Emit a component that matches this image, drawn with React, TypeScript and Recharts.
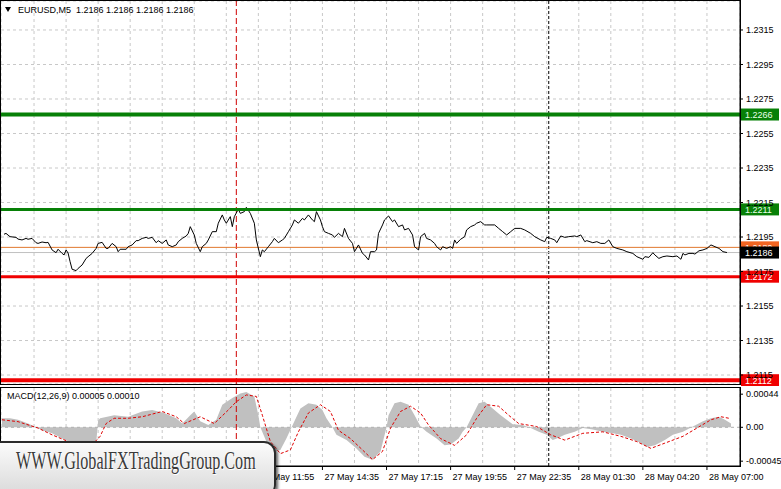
import { ComposedChart, Line, Area, XAxis, YAxis, CartesianGrid, ReferenceLine } from 'recharts';

const FONT = '"Liberation Sans", Arial, sans-serif';

const symbolLabel = 'EURUSD,M5';
const macdLabel = 'MACD(12,26,9)';
const macdReadout = [0.00005, 0.0001];
const watermarkText = 'WWW.GlobalFXTradingGroup.Com';

// price line, bar index (5 min bars) and close
const priceBars = [
    1, 2, 4, 7, 8, 10, 12, 13, 15, 17, 18, 20, 22, 23, 25, 27, 28, 30, 31, 32, 33, 34, 35, 37, 38, 40, 42, 43, 45, 47,
    48, 50, 52, 53, 55, 57, 58, 59, 62, 63, 65, 67, 68, 70, 72, 73, 75, 77, 78, 80, 82, 83, 85, 87, 88, 90, 92, 93, 94,
    96, 97, 99, 100, 102, 103, 105, 107, 108, 110, 111, 112, 114, 115, 116, 118, 119, 121, 122, 124, 126, 127, 129, 130,
    131, 133, 135, 136, 138, 140, 141, 143, 145, 146, 148, 150, 151, 153, 155, 156, 157, 159, 160, 161, 163, 165, 166,
    168, 170, 171, 173, 175, 176, 178, 180, 181, 183, 184, 186, 187, 188, 190, 191, 193, 195, 196, 198, 200, 201, 203,
    205, 206, 208, 209, 211, 212, 214, 216, 217, 219, 220, 222, 224, 225, 226, 227, 229, 231, 232, 234, 236, 237, 239,
    241, 242, 246, 248, 250, 252, 254, 256, 259, 261, 264, 266, 269, 271, 272, 274, 276, 277, 279, 281, 283, 286, 287,
    289, 291, 292, 295, 297, 299, 301, 303, 305, 307, 310, 312, 315, 317, 320, 321, 323, 325, 326, 328, 330, 332, 335,
    337, 339, 340, 341, 343, 345, 346, 348, 350, 352, 354, 356, 358, 360, 362,
];
const closes = [
    1.21966, 1.21971, 1.21952, 1.21948, 1.21938, 1.21933, 1.21942, 1.21937, 1.21942, 1.21917, 1.21913, 1.21921, 1.21917,
    1.21919, 1.21875, 1.21859, 1.21879, 1.21855, 1.21846, 1.21875, 1.21857, 1.21807, 1.21763, 1.21755, 1.21768, 1.21788,
    1.21826, 1.21836, 1.21855, 1.21884, 1.21913, 1.21919, 1.21884, 1.21884, 1.21913, 1.21894, 1.21865, 1.21879, 1.21879,
    1.21894, 1.21904, 1.21929, 1.21929, 1.21942, 1.21948, 1.21942, 1.21948, 1.21917, 1.21929, 1.21913, 1.21933, 1.21904,
    1.21894, 1.21904, 1.21923, 1.21942, 1.21956, 1.21971, 1.2201, 1.21962, 1.21913, 1.21865, 1.21894, 1.21913, 1.21933,
    1.21981, 1.21981, 1.2203, 1.22078, 1.22049, 1.2203, 1.22068, 1.2201, 1.22068, 1.22111, 1.22087, 1.22097, 1.22122,
    1.22087, 1.2203, 1.21933, 1.21836, 1.21875, 1.21865, 1.21894, 1.21923, 1.21942, 1.21917, 1.21933, 1.21942, 1.21981,
    1.2202, 1.22049, 1.2203, 1.22058, 1.22049, 1.22078, 1.22049, 1.22039, 1.22097, 1.22049, 1.2201, 1.21981, 1.21971,
    1.21962, 1.21948, 1.21971, 1.21952, 1.22, 1.21942, 1.21913, 1.21865, 1.21904, 1.21855, 1.21846, 1.21817, 1.21865,
    1.21865, 1.21875, 1.21971, 1.2202, 1.22049, 1.22072, 1.22039, 1.22049, 1.2201, 1.2202, 1.21991, 1.22, 1.21962,
    1.21894, 1.21875, 1.21952, 1.21971, 1.21942, 1.21933, 1.21913, 1.21894, 1.21875, 1.21894, 1.21884, 1.21894, 1.21884,
    1.21933, 1.21913, 1.21937, 1.21952, 1.21991, 1.2201, 1.2202, 1.2203, 1.22039, 1.2202, 1.2202, 1.2202, 1.22, 1.21981,
    1.21962, 1.21981, 1.22, 1.22, 1.21991, 1.21971, 1.21952, 1.21933, 1.21923, 1.21948, 1.21942, 1.21933, 1.21917,
    1.21956, 1.21948, 1.21952, 1.21956, 1.21952, 1.21962, 1.21923, 1.21929, 1.21917, 1.21923, 1.21913, 1.21913, 1.21933,
    1.21894, 1.21884, 1.21875, 1.21865, 1.21855, 1.21836, 1.21821, 1.21836, 1.21832, 1.21859, 1.21846, 1.21826, 1.21836,
    1.2184, 1.21836, 1.2184, 1.21821, 1.21855, 1.21846, 1.21855, 1.21855, 1.21851, 1.2187, 1.21875, 1.21884, 1.21904,
    1.21894, 1.21884, 1.21865, 1.2186,
];

const priceTicks = [1.2115, 1.2135, 1.2155, 1.2175, 1.2195, 1.2215, 1.2235, 1.2255, 1.2275, 1.2295, 1.2315];
const priceDomain = [1.21098, 1.23318];
const resistanceLevels = [1.2266, 1.2211];
const supportLevels = [1.2172, 1.2112];
const askPrice = 1.2189;
const bidPrice = 1.2186;

const barDomain = [-0.5, 368.5];
const gridBars = [16, 32, 48, 64, 80, 96, 112, 128, 144, 160, 176, 192, 208, 224, 240, 256, 272, 288, 304, 320, 336, 352];
const timeBars = [128, 160, 192, 224, 256, 288, 320, 352];
const timeLabels = [
    '27 May 11:55',
    '27 May 14:35',
    '27 May 17:15',
    '27 May 19:55',
    '27 May 22:35',
    '28 May 01:30',
    '28 May 04:20',
    '28 May 07:00',
];
const redMarkBar = 117;
const blackMarkBar = 273;

// MACD main (histogram) and signal
const histBars = [
    0, 4, 8, 13, 17, 20, 25, 30, 35, 40, 44, 47, 48, 49, 56, 63, 70, 75, 81, 87, 90, 94, 96, 99, 103, 107, 110, 115, 119,
    122, 126, 128, 129, 132, 135, 139, 142, 146, 149, 153, 157, 160, 162, 165, 167, 172, 177, 181, 185, 189, 192, 193,
    196, 199, 203, 206, 209, 212, 217, 221, 224, 228, 230, 232, 235, 238, 241, 245, 249, 253, 255, 260, 264, 268, 272,
    275, 277, 281, 286, 290, 295, 300, 305, 309, 314, 319, 322, 326, 331, 335, 340, 345, 350, 354, 358, 361, 364,
];
const histValues = [
    0.00012, 0.00012, 0.0001, 0.00005, 0, -0.00004, -0.00008, -0.00015, -0.00021, -0.00024, -0.00025, -0.00022, 0.00009,
    0.00012, 0.00016, 0.00014, 0.00021, 0.00023, 0.00019, 0.00012, 0.00005, 0.00016, 0.00021, 0.00008, 0.00003, 0.0001,
    0.0003, 0.00039, 0.00045, 0.00047, 0.00041, 0.00016, 0, -0.00019, -0.00032, -0.0003, -0.00015, 0.00008, 0.00025,
    0.00032, 0.0003, 0.00023, 0.00012, 0, -0.0001, -0.00017, -0.00028, -0.00039, -0.00043, -0.00032, 0, 0.00016, 0.00032,
    0.00034, 0.0003, 0.00016, 0.00001, -0.00006, -0.00015, -0.00024, -0.00023, -0.00015, -0.00006, 0, 0.00016, 0.00032,
    0.00034, 0.00025, 0.00016, 0.00008, 0.00004, 0.00003, -0.00001, -0.00006, -0.0001, -0.00017, -0.00015, -0.0001,
    -0.00006, -0.00001, -0.00003, -0.00006, -0.00008, -0.0001, -0.00015, -0.00021, -0.00026, -0.00024, -0.00017, -0.0001,
    -0.00006, 0.00001, 0.00008, 0.00012, 0.00014, 0.0001, 0.00005,
];
const signalBars = [
    0, 8, 18, 25, 35, 44, 49, 52, 56, 63, 70, 80, 87, 91, 99, 106, 113, 117, 122, 127, 130, 134, 139, 144, 148, 153, 159,
    164, 168, 174, 180, 185, 190, 194, 199, 204, 209, 213, 219, 226, 232, 237, 242, 248, 253, 258, 267, 274, 281, 290,
    300, 309, 317, 324, 331, 340, 347, 354, 359, 363,
];
const signalValues = [
    0.0001, 0.000075, -0.00001, -0.0001, -0.00021, -0.00026, -0.00012, 0.00005, 0.00012, 0.00012, 0.00014, 0.00021,
    0.00014, 0.00005, 0.00014, 0.00005, 0.00023, 0.00034, 0.00043, 0.00041, 0.00016, -0.00019, -0.00035, -0.0003,
    -0.00006, 0.00019, 0.0003, 0.00021, -0.00004, -0.00015, -0.0003, -0.00043, -0.00032, -0.00001, 0.00021, 0.00028,
    0.00019, 0.00003, -0.00015, -0.00024, -0.0001, 0.00012, 0.0003, 0.00028, 0.00016, 0.00005, 0.00001, -0.0001,
    -0.00017, -0.00008, -0.00006, -0.00012, -0.00019, -0.00028, -0.00021, -0.00012, -0.00001, 0.0001, 0.00014, 0.00012,
];
const macdTicks = [-0.00045, 0, 0.00044];
const macdDomain = [-0.000514, 0.000522];

const priceData = priceBars.map((bar, i) => ({ bar, close: closes[i] }));
const histData = histBars.map((bar, i) => ({ bar, hist: histValues[i] }));
const signalData = signalBars.map((bar, i) => ({ bar, signal: signalValues[i] }));
const lastClose = closes[closes.length - 1].toFixed(4);

function PriceTag(props: any) {
    const { viewBox, price, fill, color } = props;
    if (!viewBox) return null;
    const x = viewBox.x + viewBox.width + 1;
    const y = viewBox.y;
    return (
        <g>
            <rect x={x} y={y - 6} width={38} height={12} fill={fill} />
            <text x={x + 4} y={y + 3.5} fill={color} fontSize={9} fontFamily={FONT}>
                {price.toFixed(4)}
            </text>
        </g>
    );
}

function TimeTick({ x, y, payload }: any) {
    const i = timeBars.indexOf(payload.value);
    return (
        <text x={x + 2} y={y + 8} fontSize={9} fontFamily={FONT} fill="#000">
            {timeLabels[i]}
        </text>
    );
}

const tickStyle = { fontSize: 9, fill: '#000', fontFamily: FONT };

export default function App() {
    return (
        <div style={{ position: 'fixed', left: 0, top: 0, width: 781, height: 489, background: '#fff', overflow: 'hidden', fontFamily: FONT }}>
            <div style={{ position: 'absolute', left: 0, top: 0 }}>
                <ComposedChart width={781} height={386} margin={{ top: 1, right: 0, bottom: 2, left: 1 }}>
                    <XAxis type="number" dataKey="bar" domain={barDomain} ticks={gridBars} hide allowDataOverflow />
                    <YAxis
                        orientation="right"
                        type="number"
                        width={41}
                        domain={priceDomain}
                        ticks={priceTicks}
                        allowDataOverflow
                        tickSize={3}
                        tickMargin={3}
                        axisLine={{ stroke: '#000' }}
                        tickLine={{ stroke: '#000' }}
                        tick={tickStyle}
                        tickFormatter={(v: number) => v.toFixed(4)}
                    />
                    <CartesianGrid strokeDasharray="3 3" stroke="#c8c8c8" />
                    <ReferenceLine x={redMarkBar} stroke="#d00000" strokeDasharray="6 3" />
                    <ReferenceLine x={blackMarkBar} stroke="#000" strokeDasharray="3 2" />
                    <ReferenceLine
                        y={askPrice}
                        stroke="#e0782e"
                        label={(p: any) => <PriceTag {...p} price={askPrice} fill="#f26522" color="#fff" />}
                    />
                    <ReferenceLine
                        y={bidPrice}
                        stroke="#c0c0c0"
                        label={(p: any) => <PriceTag {...p} price={bidPrice} fill="#000" color="#fff" />}
                    />
                    <Line
                        data={priceData}
                        dataKey="close"
                        type="linear"
                        stroke="#000"
                        strokeWidth={1}
                        dot={false}
                        isAnimationActive={false}
                    />
                    {resistanceLevels.map((lvl, i) => (
                        <ReferenceLine
                            key={'r' + lvl}
                            y={lvl}
                            stroke="#078007"
                            strokeWidth={i === 0 ? 4 : 3}
                            label={(p: any) => <PriceTag {...p} price={lvl} fill="#078007" color="#e8ffe8" />}
                        />
                    ))}
                    {supportLevels.map((lvl, i) => (
                        <ReferenceLine
                            key={'s' + lvl}
                            y={lvl}
                            stroke="#f00000"
                            strokeWidth={i === 1 ? 4 : 3}
                            label={(p: any) => <PriceTag {...p} price={lvl} fill="#f00000" color="#fff" />}
                        />
                    ))}
                </ComposedChart>
            </div>

            <div style={{ position: 'absolute', left: 0, top: 386 }}>
                <ComposedChart width={781} height={103} margin={{ top: 2, right: 0, bottom: 0, left: 1 }}>
                    <XAxis xAxisId="grid" type="number" dataKey="bar" domain={barDomain} ticks={gridBars} hide allowDataOverflow />
                    <XAxis
                        type="number"
                        dataKey="bar"
                        domain={barDomain}
                        ticks={timeBars}
                        interval={0}
                        height={23}
                        allowDataOverflow
                        tickSize={4}
                        axisLine={{ stroke: '#000' }}
                        tickLine={{ stroke: '#000' }}
                        tick={<TimeTick />}
                    />
                    <YAxis
                        orientation="right"
                        type="number"
                        width={41}
                        domain={macdDomain}
                        ticks={macdTicks}
                        allowDataOverflow
                        tickSize={3}
                        tickMargin={3}
                        axisLine={{ stroke: '#000' }}
                        tickLine={{ stroke: '#000' }}
                        tick={tickStyle}
                        tickFormatter={(v: number) => (v === 0 ? '0.00' : v.toFixed(5))}
                    />
                    <CartesianGrid xAxisId="grid" horizontal={false} strokeDasharray="3 3" stroke="#c8c8c8" />
                    <Area
                        data={histData}
                        dataKey="hist"
                        type="linear"
                        stroke="none"
                        fill="#c0c0c0"
                        fillOpacity={1}
                        baseValue={0}
                        isAnimationActive={false}
                    />
                    <ReferenceLine y={0} stroke="#b0b0b0" strokeDasharray="3 3" />
                    <ReferenceLine x={redMarkBar} stroke="#d00000" strokeDasharray="6 3" />
                    <ReferenceLine x={blackMarkBar} stroke="#000" strokeDasharray="3 2" />
                    <Line
                        data={signalData}
                        dataKey="signal"
                        type="linear"
                        stroke="#e00000"
                        strokeDasharray="3 2"
                        strokeWidth={1}
                        dot={false}
                        isAnimationActive={false}
                    />
                </ComposedChart>
            </div>

            {/* panel frames */}
            <div style={{ position: 'absolute', left: 0, top: 0, width: 741, height: 385, border: '1px solid #000', boxSizing: 'border-box', pointerEvents: 'none' }} />
            <div style={{ position: 'absolute', left: 0, top: 387, width: 741, height: 80, border: '1px solid #000', boxSizing: 'border-box', pointerEvents: 'none' }} />

            {/* title */}
            <div style={{ position: 'absolute', left: 5, top: 7, width: 0, height: 0, borderLeft: '3.5px solid transparent', borderRight: '3.5px solid transparent', borderTop: '5px solid #000' }} />
            <div style={{ position: 'absolute', left: 18, top: 5, fontSize: 9, lineHeight: '10px', whiteSpace: 'pre', color: '#000' }}>
                {symbolLabel + '  ' + [lastClose, lastClose, lastClose, lastClose].join(' ')}
            </div>
            <div style={{ position: 'absolute', left: 7, top: 391, fontSize: 9, lineHeight: '10px', whiteSpace: 'pre', color: '#000' }}>
                {macdLabel + ' ' + macdReadout.map((v) => v.toFixed(5)).join(' ')}
            </div>

            {/* watermark */}
            <div
                style={{
                    position: 'absolute',
                    left: -4,
                    top: 441,
                    width: 280,
                    height: 56,
                    borderRadius: '0 12px 12px 0',
                    border: '2px solid #2a2a2a',
                    boxSizing: 'border-box',
                    background: 'linear-gradient(#fbfbfb, #d9d9d9)',
                    boxShadow: '2px 2px 3px rgba(0,0,0,0.6)',
                    overflow: 'hidden',
                }}
            >
                <div
                    style={{
                        position: 'absolute',
                        left: 18,
                        top: 5,
                        fontSize: 26,
                        lineHeight: '26px',
                        whiteSpace: 'pre',
                        fontFamily: '"Liberation Serif", "Times New Roman", serif',
                        color: '#3a3a3a',
                        textShadow: '1px 1px 0 #fff, 0 0 2px #fff',
                        transform: 'scaleX(0.62)',
                        transformOrigin: '0 0',
                    }}
                >
                    {watermarkText}
                </div>
            </div>
        </div>
    );
}
